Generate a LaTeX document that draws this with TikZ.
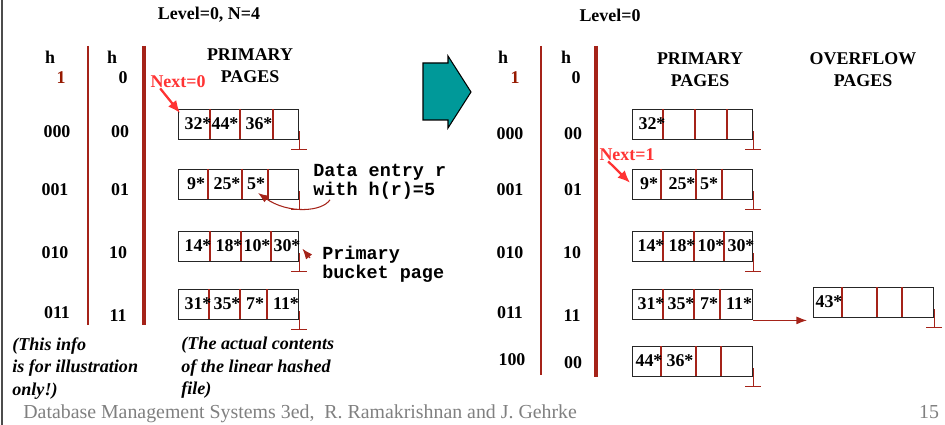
\documentclass[tikz,border=0pt]{standalone}
\usepackage{fontspec}
\setmainfont{Liberation Serif}
\setmonofont{Liberation Mono}
\usetikzlibrary{shapes, arrows, arrows.meta}
\definecolor{dkred}{RGB}{165,35,25}
\definecolor{hred}{RGB}{150,25,0}
\definecolor{nextred}{RGB}{255,51,51}
\definecolor{arrowteal}{RGB}{0,153,153}
\tikzstyle{page} = [draw=black!85, line width=0.8pt, rectangle, minimum width=2.4cm, minimum height=0.6cm, anchor=north west, inner sep=0pt]
\tikzstyle{entry} = [font=\bfseries\fontsize{10.2}{12}\selectfont, inner sep=0pt]
\tikzstyle{tag} = [font=\bfseries\fontsize{10.2}{12.5}\selectfont, inner sep=0pt]
\tikzstyle{divider} = [draw=dkred, line width=0.6pt]
\tikzstyle{note} = [font=\ttfamily\bfseries\fontsize{10.5}{8.8}\selectfont, align=left, inner sep=0pt, anchor=north west]
\tikzstyle{nextarrow} = [-{Latex[length=7pt,width=6pt]}, draw=nextred, line width=1.3pt]
\tikzstyle{pointer} = [-{Latex[length=6pt,width=4.5pt]}, draw=dkred, line width=0.6pt]
% one bucket: name, corner, divider offsets, entries
\newcommand{\pagebucket}[4]{%
  \node [page] (#1) at #2 {};
  \foreach \dx in {#3} {\draw [divider] (#1.north west) ++(\dx,0) -- ++(0,30);}
  \foreach \cx/\txt in {#4} {\path (#1.west) ++(\cx,-1) node [entry] {\txt};}
}
\newcommand{\groundmark}[1]{\draw [divider] (#1.south east) ++(0,-9) -- ++(0,18) ++(-8,0) -- ++(16,0);}

\begin{document}
\begin{tikzpicture}[x=0.02cm, y=-0.02cm]
\useasboundingbox (0,0) rectangle (945,425);
\draw [black!70, line width=0.6pt] (2,0) -- (2,425);

% before the split
\node [tag] (lvlA) at (209,15) {Level=0, N=4};
\node [tag] (hA1) at (50,57) {h};
\node [tag, text=hred] (oneA) at (61,78) {1};
\node [tag] (hA0) at (112,57) {h};
\node [tag] (zeroA) at (123,78) {0};
\node [tag, align=center] (primA) at (250,66) {PRIMARY\\PAGES};
\draw [dkred, line width=0.8pt] (88,46) -- (88,325);
\draw [dkred, line width=1.8pt] (144,46) -- (144,325);

\node [tag] (la0) at (57,132) {000};
\node [tag] (sa0) at (120,132) {00};
\node [tag] (la1) at (55,190) {001};
\node [tag] (sa1) at (120,190) {01};
\node [tag] (la2) at (55,253) {010};
\node [tag] (sa2) at (118,253) {10};
\node [tag] (la3) at (57,313) {011};
\node [tag] (sa3) at (118,316) {11};

\pagebucket{a0}{(178,109)}{32,62,95}{20/32*,47/44*,81/36*}
\pagebucket{a1}{(178,169)}{30,64,90}{18/9*,49/25*,78/5*}
\pagebucket{a2}{(178,231)}{32,63,93}{20/14*,51/18*,79/10*,109/30*}
\pagebucket{a3}{(178,289)}{31,62,89}{20/31*,49/35*,77/7*,108/11*}
\groundmark{a0}
\groundmark{a1}
\groundmark{a2}
\groundmark{a3}

\node [tag, text=nextred] (next0) at (178,82) {Next=0};
\draw [nextarrow] ([xshift=0.2cm]next0.south west) -- ([xshift=0.04cm,yshift=-0.08cm]a0.north west);

\node [note] (dnote) at (313,164) {Data entry r\\with h(r)=5};
\coordinate (r5) at (258,193);
\draw [pointer] ([xshift=0.34cm]dnote.south west) .. controls (322,212) and (288,214) .. (r5);
\node [note, font=\ttfamily\bfseries\fontsize{10.5}{10.8}\selectfont] (pbnote) at (322,246) {Primary\\bucket page};
\draw [pointer] ([xshift=-0.24cm,yshift=-0.24cm]pbnote.north west) -- ([xshift=0.06cm,yshift=-0.04cm]a2.east);

\node [tag, font=\bfseries\itshape\fontsize{10.3}{12.8}\selectfont, align=left, anchor=north west] (infoA) at (12,337) {(This info\\is for illustration\\only!)};
\node [tag, font=\bfseries\itshape\fontsize{10.3}{12.8}\selectfont, align=left, anchor=north west] (infoB) at (181,337) {(The actual contents\\of the linear hashed\\file)};

% split arrow
\draw [fill=arrowteal, draw=black, line width=0.6pt] (423,63) -- (448,63) -- (448,56) -- (471,92) -- (448,128) -- (448,120) -- (423,120) -- cycle;

% after the split
\node [tag] (lvlB) at (610,15) {Level=0};
\node [tag] (hB1) at (503,57) {h};
\node [tag, text=hred] (oneB) at (515,78) {1};
\node [tag] (hB0) at (566,57) {h};
\node [tag] (zeroB) at (576,78) {0};
\node [tag, align=center] (primB) at (700,70) {PRIMARY\\PAGES};
\node [tag, align=center] (ovflB) at (863,70) {OVERFLOW\\PAGES};
\draw [dkred, line width=0.8pt] (541,46) -- (541,375);
\draw [dkred, line width=1.8pt] (596,46) -- (596,377);

\node [tag] (lb0) at (510,134) {000};
\node [tag] (sb0) at (573,134) {00};
\node [tag] (lb1) at (510,190) {001};
\node [tag] (sb1) at (573,190) {01};
\node [tag] (lb2) at (510,253) {010};
\node [tag] (sb2) at (572,253) {10};
\node [tag] (lb3) at (510,313) {011};
\node [tag] (sb3) at (572,316) {11};
\node [tag] (lb4) at (512,360) {100};
\node [tag] (sb4) at (573,363) {00};

\pagebucket{b0}{(632,109)}{31,63,95}{20/32*}
\pagebucket{b1}{(632,169)}{29,64,90}{17/9*,50/25*,77/5*}
\pagebucket{b2}{(632,231)}{31,62,92}{19/14*,50/18*,79/10*,109/30*}
\pagebucket{b3}{(632,289)}{31,62,88}{19/31*,49/35*,77/7*,107/11*}
\pagebucket{b4}{(632,346)}{29,64,89}{17/44*,48/36*}
\pagebucket{c0}{(813,287)}{29,64,89}{16/43*}
\groundmark{b0}
\groundmark{b1}
\groundmark{b2}
\groundmark{b4}
\groundmark{c0}
\draw [pointer, shorten >=0.12cm] (b3.south east) -- (b3.south east -| c0.west);

\node [tag, text=nextred] (next1) at (627,155) {Next=1};
\draw [nextarrow] ([xshift=0.18cm]next1.south west) -- ([xshift=-0.04cm,yshift=0.04cm]b1.west);

% footer
\node [anchor=base west, inner sep=0pt, text=black!50, font=\fontsize{11.3}{13}\selectfont] (foot) at (23,418) {Database Management Systems 3ed,\ \ R. Ramakrishnan and J. Gehrke};
\node [anchor=base, inner sep=0pt, text=black!50, font=\fontsize{11.3}{13}\selectfont] (pgno) at (929,418) {15};
\end{tikzpicture}
\end{document}
